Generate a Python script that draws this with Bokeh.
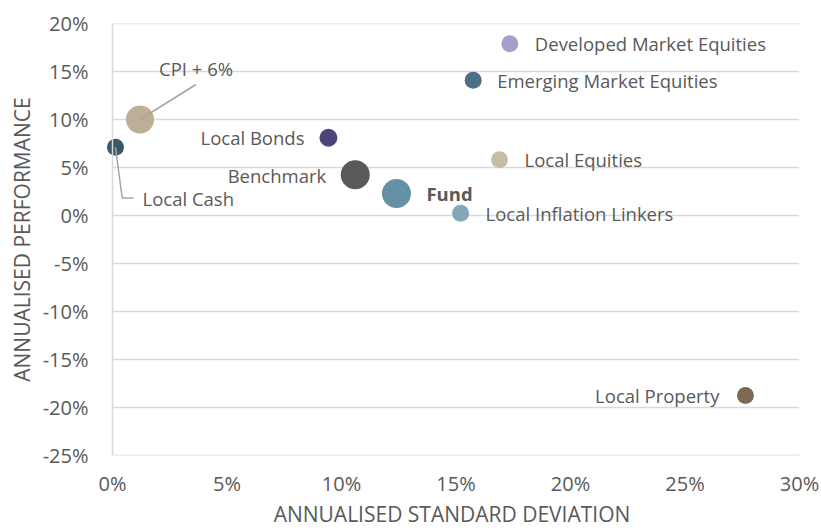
from bokeh.plotting import figure
from bokeh.models import Range1d, FixedTicker, PrintfTickFormatter, Span
from bokeh.core.properties import value
from bokeh.embed import file_html
from bokeh.resources import INLINE

# ---- data (percent) ----
names = ["Developed Market Equities", "Emerging Market Equities", "Local Equities",
         "Fund", "Local Inflation Linkers", "CPI + 6%", "Local Cash",
         "Local Bonds", "Benchmark", "Local Property"]
std_dev = [17.35, 15.75, 16.9, 12.4, 15.2, 1.2, 0.13, 9.43, 10.6, 27.64]
performance = [17.9, 14.1, 5.8, 2.3, 0.24, 10.0, 7.1, 8.1, 4.25, -18.75]
x_ticks = [0, 5, 10, 15, 20, 25, 30]
y_ticks = [-25, -20, -15, -10, -5, 0, 5, 10, 15, 20]

# ---- styles ----
colors = ["#a89ec9", "#4b7185", "#c8bba8", "#6690a3", "#84a7b8", "#bfae96",
          "#3b5868", "#4d4479", "#595959", "#7d6a50"]
sizes = [17, 17, 17, 29, 17, 28, 17, 18, 29, 17]
# label offsets in screen pixels (dx right, dy down), alignment
label_style = {
    "Developed Market Equities": (25, 0, "left"),
    "Emerging Market Equities": (24, 0, "left"),
    "Local Equities": (25, 0, "left"),
    "Fund": (30, 0, "left"),
    "Local Inflation Linkers": (25, 0, "left"),
    "CPI + 6%": (56, -51, "center"),
    "Local Cash": (27, 51, "left"),
    "Local Bonds": (-24, 0, "right"),
    "Benchmark": (-29, 1, "right"),
    "Local Property": (-26, 0, "right"),
}
leaders = {
    "CPI + 6%": [(0, 0), (56, -35)],
    "Local Cash": [(0, 0), (6.7, 50.6), (18, 50.6)],
}

TEXT = "#595959"
GRID = "#d9d9d9"
FONT = "Open Sans"
TICK_FS = "20px"
TITLE_FS = "21px"
LABEL_FS = "18.5px"

X0, X1 = -0.35, 30
Y0, Y1 = -25, 20
W, H = 821, 530
BL, BR, BT, BB = 104, 22, 23, 75
FW, FH = W - BL - BR, H - BT - BB
sx = FW / (X1 - X0)
sy = FH / (Y1 - Y0)

p = figure(width=W, height=H,
           x_range=Range1d(X0, X1), y_range=Range1d(Y0, Y1),
           output_backend="svg", toolbar_location=None,
           min_border_left=BL, min_border_right=BR, min_border_top=BT,
           min_border_bottom=BB)
p.outline_line_color = None
p.grid.visible = False

# gridlines from 0% to 30%
p.segment(x0=[x_ticks[0]] * len(y_ticks), x1=[x_ticks[-1]] * len(y_ticks),
          y0=y_ticks, y1=y_ticks, line_color=GRID, line_width=1.5)
p.add_layout(Span(location=x_ticks[0], dimension="height", line_color=GRID,
                  line_width=1.5))

for ax in (p.xaxis[0], p.yaxis[0]):
    ax.axis_line_color = None
    ax.major_tick_line_color = None
    ax.minor_tick_line_color = None
    ax.major_tick_out = 0
    ax.major_tick_in = 0
    ax.minor_tick_out = 0
    ax.minor_tick_in = 0
    ax.major_label_text_color = TEXT
    ax.major_label_text_font = FONT
    ax.major_label_text_font_size = TICK_FS
    ax.axis_label_text_color = TEXT
    ax.axis_label_text_font = FONT
    ax.axis_label_text_font_size = TITLE_FS
    ax.axis_label_text_font_style = "normal"
    ax.formatter = PrintfTickFormatter(format="%d%%")

p.xaxis.ticker = FixedTicker(ticks=x_ticks)
p.yaxis.ticker = FixedTicker(ticks=y_ticks)
p.xaxis.axis_label = "ANNUALISED STANDARD DEVIATION"
p.yaxis.axis_label = "ANNUALISED PERFORMANCE"
p.xaxis.major_label_standoff = 14
p.xaxis.axis_label_standoff = 0
p.yaxis.major_label_standoff = 16
p.yaxis.axis_label_standoff = 4

# points
p.scatter(x=std_dev, y=performance, size=sizes, fill_color=colors,
          line_color=None, marker="circle")

# leader lines
for i, n in enumerate(names):
    if n in leaders:
        lx = [std_dev[i] + dx / sx for dx, dy in leaders[n]]
        ly = [performance[i] - dy / sy for dx, dy in leaders[n]]
        p.line(lx, ly, line_color="#a6a6a6", line_width=1.5)

# labels
for i, n in enumerate(names):
    dx, dy, al = label_style[n]
    p.text(x=[std_dev[i] + dx / sx], y=[performance[i] - dy / sy], text=[n],
           text_align=al, text_baseline="middle", text_color=TEXT,
           text_font=value(FONT), text_font_size=LABEL_FS,
           text_font_style="bold" if n == "Fund" else "normal")

open("out.html", "w").write(file_html(p, INLINE))
